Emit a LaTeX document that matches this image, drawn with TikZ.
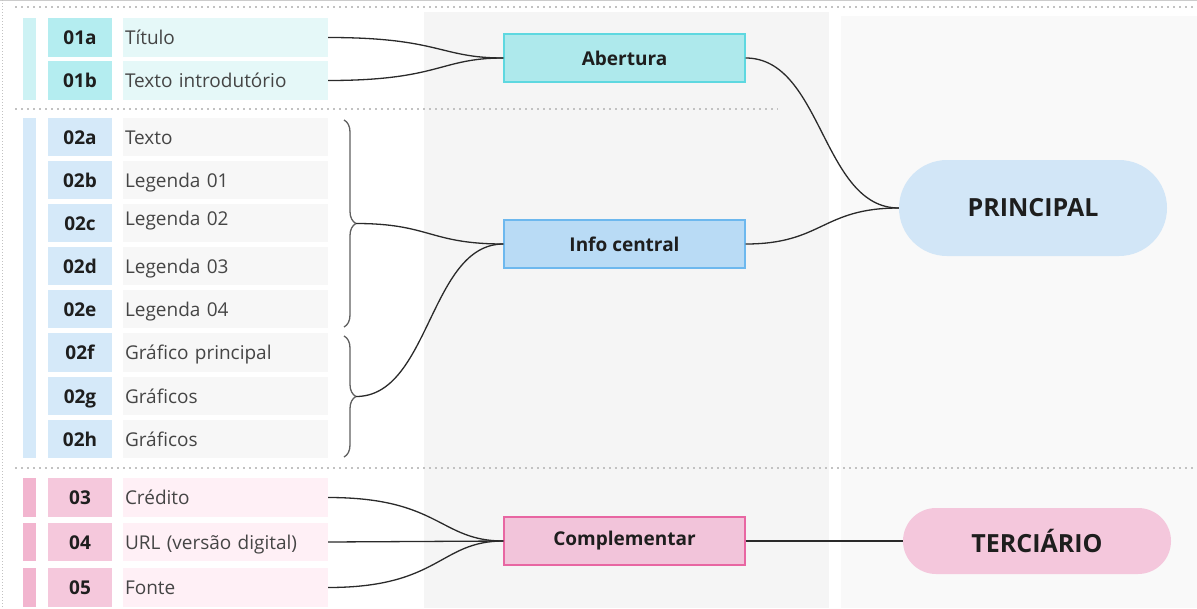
\documentclass[tikz,border=0pt]{standalone}
\usepackage{fontspec}
\setmainfont{Open Sans}
\usetikzlibrary{decorations.pathreplacing,shapes.misc}
\definecolor{cySide}{HTML}{CDF2F4}
\definecolor{cyId}{HTML}{B4EDF0}
\definecolor{cyLbl}{HTML}{E5F8F8}
\definecolor{blSide}{HTML}{D5E9F9}
\definecolor{blId}{HTML}{D5E9F9}
\definecolor{blLbl}{HTML}{F7F7F7}
\definecolor{pkSide}{HTML}{F2B5CF}
\definecolor{pkId}{HTML}{F5C8DC}
\definecolor{pkLbl}{HTML}{FFF0F6}
\definecolor{abFill}{HTML}{AEE9EC}
\definecolor{abDraw}{HTML}{5ED8E0}
\definecolor{icFill}{HTML}{B9DBF5}
\definecolor{icDraw}{HTML}{6DB8EE}
\definecolor{cpFill}{HTML}{F2C4DA}
\definecolor{cpDraw}{HTML}{E866A2}
\definecolor{prFill}{HTML}{D2E6F7}
\definecolor{teFill}{HTML}{F4C7DC}
\definecolor{colA}{HTML}{F5F5F5}
\definecolor{colB}{HTML}{F9F9F9}
\definecolor{dotgrey}{HTML}{C2C2C2}
\definecolor{txtdark}{HTML}{1E1E1E}
\definecolor{txtlbl}{HTML}{454545}
\definecolor{connc}{HTML}{2A2A2A}
\begin{document}
\begin{tikzpicture}[x=1pt,y=-1pt,
  idbox/.style={minimum width=64pt,minimum height=38.5pt,inner sep=0pt,text height=16pt,text depth=2pt,text=txtdark,font=\bfseries\fontsize{19}{22}\selectfont},
  lblbox/.style={minimum width=205pt,minimum height=38.5pt,inner xsep=2pt,inner ysep=0pt,text width=201pt,text height=16pt,text depth=2pt,align=left,text=txtlbl,font=\fontsize{19}{22}\selectfont},
  midbox/.style={draw,line width=1.2pt,minimum width=241pt,minimum height=48pt,inner sep=0pt,text=txtdark,font=\bfseries\fontsize{19}{22}\selectfont},
  pill/.style={rounded rectangle,minimum width=268pt,inner sep=0pt,text=txtdark,font=\bfseries\fontsize{25}{30}\selectfont},
  conn/.style={draw=connc,line width=1.3pt},
  dotline/.style={draw=dotgrey,line width=1.8pt,dash pattern=on 1.8pt off 4.2pt},
  bracestyle/.style={draw=gray!75!black,line width=1.3pt,decorate,decoration={brace,amplitude=12pt}}
]
\useasboundingbox (0,0) rectangle (1197,608);
% background columns
\fill[colA] (424,12) rectangle (829,608);
\fill[colB] (841,16) rectangle (1197,608);
% frame
\draw[gray!40,line width=1pt] (0,0.5) -- (1197,0.5);
\draw[dotgrey,line width=1pt,dash pattern=on 1pt off 2pt] (2.5,0) -- (2.5,608);
% separators
\draw[dotline] (15,7) -- (1197,7);
\draw[dotline] (15,109) -- (778,109);
\draw[dotline] (15,468) -- (1197,468);
% side bars
\fill[cySide] (23,18) rectangle (36,100);
\fill[blSide] (23,118) rectangle (36,458);
\fill[pkSide] (23,478) rectangle (36,517);
\fill[pkSide] (23,523) rectangle (36,561);
\fill[pkSide] (23,568) rectangle (36,607);
% group 1
\node[idbox,fill=cyId] (id01a) at (80,37.5) {01a};
\node[lblbox,fill=cyLbl] (l01a) at (225.5,37.5) {Título};
\node[idbox,fill=cyId] (id01b) at (80,80.5) {01b};
\node[lblbox,fill=cyLbl] (l01b) at (225.5,80.5) {Texto introdutório};
% group 2
\node[idbox,fill=blId] (id02a) at (80,137) {02a};
\node[lblbox,fill=blLbl] (l02a) at (225.5,137) {Texto};
\node[idbox,fill=blId] (id02b) at (80,180) {02b};
\node[lblbox,fill=blLbl] (l02b) at (225.5,180) {Legenda 01};
\node[idbox,fill=blId] (id02c) at (80,223) {02c};
\node[lblbox,fill=blLbl] (l02c) at (225.5,223) {\raisebox{5pt}{Legenda 02}};
\node[idbox,fill=blId] (id02d) at (80,266) {02d};
\node[lblbox,fill=blLbl] (l02d) at (225.5,266) {Legenda 03};
\node[idbox,fill=blId] (id02e) at (80,309) {02e};
\node[lblbox,fill=blLbl] (l02e) at (225.5,309) {Legenda 04};
\node[idbox,fill=blId] (id02f) at (80,352.5) {02f};
\node[lblbox,fill=blLbl] (l02f) at (225.5,352.5) {Gráfico principal};
\node[idbox,fill=blId] (id02g) at (80,396) {02g};
\node[lblbox,fill=blLbl] (l02g) at (225.5,396) {Gráficos};
\node[idbox,fill=blId] (id02h) at (80,439) {02h};
\node[lblbox,fill=blLbl] (l02h) at (225.5,439) {Gráficos};
% group 3
\node[idbox,fill=pkId] (id03) at (80,497.5) {03};
\node[lblbox,fill=pkLbl] (l03) at (225.5,497.5) {Crédito};
\node[idbox,fill=pkId] (id04) at (80,542) {04};
\node[lblbox,fill=pkLbl] (l04) at (225.5,542) {URL (versão digital)};
\node[idbox,fill=pkId] (id05) at (80,587.5) {05};
\node[lblbox,fill=pkLbl] (l05) at (225.5,587.5) {Fonte};
% braces
\draw[bracestyle] (344,120) -- (344,327);
\coordinate (br1) at (356,223.5);
\draw[bracestyle] (344,336) -- (344,457);
\coordinate (br2) at (356,396.5);
% middle boxes
\node[midbox,fill=abFill,draw=abDraw] (ab) at (624.5,58) {Abertura};
\node[midbox,fill=icFill,draw=icDraw] (ic) at (624.5,244) {Info central};
\node[midbox,fill=cpFill,draw=cpDraw] (cp) at (624.5,541) {Complementar};
% right pills
\node[pill,fill=prFill,minimum height=96pt] (pr) at (1033,208) {PRINCIPAL};
\node[pill,fill=teFill,minimum height=66pt] (te) at (1037,541) {TERCIÁRIO};
% connectors
\draw[conn] (l01a.east) .. controls +(112,0) and +(-64,0) .. (ab.west);
\draw[conn] (l01b.east) .. controls +(112,0) and +(-64,0) .. (ab.west);
\draw[conn] (br1) .. controls +(74,0) and +(-74,0) .. (ic.west);
\draw[conn] (br2) .. controls +(74,0) and +(-74,0) .. (ic.west);
\draw[conn] (l03.east) .. controls +(112,0) and +(-64,0) .. (cp.west);
\draw[conn] (l04.east) -- (cp.west);
\draw[conn] (l05.east) .. controls +(112,0) and +(-64,0) .. (cp.west);
\draw[conn] (ab.east) .. controls +(77,0) and +(-77,0) .. (pr.west);
\draw[conn] (ic.east) .. controls +(77,0) and +(-77,0) .. (pr.west);
\draw[conn] (cp.east) -- (te.west);
\end{tikzpicture}
\end{document}
